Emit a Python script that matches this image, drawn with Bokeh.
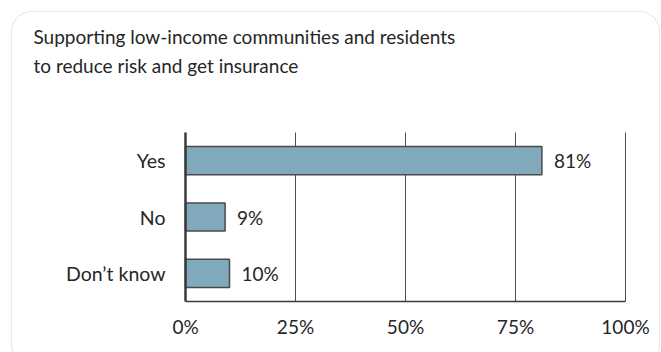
from bokeh.plotting import figure
from bokeh.models import (ColumnDataSource, FixedTicker, Label, LinearAxis,
                          BoxAnnotation, LabelSet, Range1d)
from bokeh.core.properties import value
from bokeh.embed import file_html
from bokeh.resources import INLINE

# ---- data ----
categories = ["Yes", "No", "Don\u2019t know"]
values = [81, 9, 10]
value_labels = ["81%", "9%", "10%"]
tick_values = [0, 25, 50, 75, 100]
tick_labels = ["0%", "25%", "50%", "75%", "100%"]
title_lines = ["Supporting low-income communities and residents",
               "to reduce risk and get insurance"]

FONT = "Lato"
TXT = "#262626"
W, H = 661, 352

# chart area on the canvas (pixels)
FL, FR, FT, FB = 185, 625, 132, 301
n = len(categories)
sx = (FR - FL) / 100.0          # px per x unit
sy = (FB - FT) / float(n)       # px per category slot

def dx(px):
    return (px - FL) / sx

def dy(py):
    return (FB - py) / sy

ypos = [n - 0.5 - i for i in range(n)]   # Yes at top

src = ColumnDataSource(dict(y=ypos, val=values, lab=value_labels))

p = figure(width=W, height=H, x_range=Range1d(dx(0), dx(W)),
           y_range=Range1d(dy(H), dy(0)),
           x_axis_location=None, y_axis_location=None,
           output_backend="svg", toolbar_location=None)
p.min_border = 0
p.outline_line_color = None
p.background_fill_color = "white"
p.border_fill_color = "white"
p.xgrid.visible = False
p.ygrid.visible = False

# rounded panel border
p.add_layout(BoxAnnotation(left=dx(11), right=dx(659), top=dy(11), bottom=dy(364),
                           fill_color=None, line_color="#b3b3b3",
                           line_width=1.2, border_radius=20, level="underlay"))

# vertical grid lines
p.segment(x0=tick_values[1:], x1=tick_values[1:], y0=0, y1=n,
          line_color="#4d4d4d", line_width=1)

# bars
p.hbar(y="y", right="val", left=0, height=0.5, source=src,
       fill_color="#80A9BC", line_color="#4a4a4a", line_width=1.5)

p.add_layout(LabelSet(x="val", y="y", text="lab", source=src,
                      x_offset=12, text_baseline="middle",
                      text_font=value(FONT), text_font_size="19px",
                      text_color=TXT))

# axes fixed at the chart origin
xaxis = LinearAxis(fixed_location=0, bounds=(0, 100),
                   ticker=FixedTicker(ticks=tick_values),
                   major_label_overrides={v: l for v, l in zip(tick_values, tick_labels)},
                   major_tick_line_color=None, minor_tick_line_color=None,
                   axis_line_color="#3a3a3a", axis_line_width=1.5,
                   major_label_standoff=7,
                   major_label_text_font=FONT, major_label_text_font_size="19px",
                   major_label_text_color=TXT)
p.add_layout(xaxis, "below")

yaxis = LinearAxis(fixed_location=0, bounds=(0, n),
                   ticker=FixedTicker(ticks=ypos),
                   major_label_overrides={y: c for y, c in zip(ypos, categories)},
                   major_tick_line_color=None, minor_tick_line_color=None,
                   axis_line_color="#3a3a3a", axis_line_width=2.5,
                   major_label_standoff=14,
                   major_label_text_font=FONT, major_label_text_font_size="19.5px",
                   major_label_text_color=TXT)
p.add_layout(yaxis, "left")

# title
for i, t in enumerate(title_lines):
    p.add_layout(Label(x=dx(33), y=dy(36 + i * 29), text=t,
                       text_baseline="middle",
                       text_font=FONT, text_font_size="19px", text_color=TXT))

open("out.html", "w").write(file_html(p, INLINE))
